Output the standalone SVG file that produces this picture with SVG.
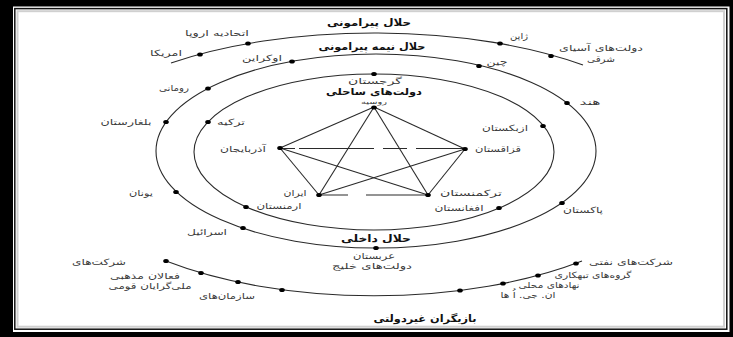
<svg xmlns="http://www.w3.org/2000/svg" width="733" height="337" viewBox="0 0 733 337">
<style>
text{font-family:"DejaVu Sans","Noto Sans",sans-serif;direction:rtl;text-anchor:middle;}
.l{font-size:8.5px;fill:#3a3a3a;}
.b{font-size:10px;font-weight:bold;fill:#111;}
.ring{fill:none;stroke:#2a2a2a;stroke-width:1.1;}
.edge{stroke:#2a2a2a;stroke-width:1.1;fill:none;}
.dot{fill:#000;}
</style>
<defs>
<ellipse id="d" cx="0" cy="0" rx="2.8" ry="2" class="dot"/>
</defs>
<g id="frame">
<rect x="0" y="0" width="733" height="337" fill="#000"/>
<rect x="13" y="6.5" width="716.5" height="325.5" fill="#fff"/>
<rect x="14.8" y="8.6" width="712" height="320.6" fill="none" stroke="#111" stroke-width="1.5"/>
<rect x="17.5" y="11.2" width="706.5" height="315.5" fill="none" stroke="#d0d0d0" stroke-width="2"/>
</g>
<g id="connectors">
<path id="outer-arc" class="ring" d="M171,63 A305,118 0 0 1 583,65"/>
<ellipse id="semi-ring" class="ring" cx="376" cy="151" rx="220" ry="97"/>
<ellipse id="inner-ring" class="ring" cx="374" cy="152" rx="180" ry="78"/>
<path id="nonstate-arc" class="ring" d="M166,261 A320,145 0 0 0 582,261"/>
<line class="edge" x1="374" y1="107" x2="280" y2="148"/>
<line class="edge" x1="374" y1="107" x2="465" y2="149"/>
<line class="edge" x1="374" y1="107" x2="319" y2="195"/>
<line class="edge" x1="374" y1="107" x2="428" y2="195"/>
<line class="edge" x1="280" y1="148" x2="319" y2="195"/>
<line class="edge" x1="280" y1="148" x2="428" y2="195"/>
<line class="edge" x1="465" y1="149" x2="319" y2="195"/>
<line class="edge" x1="465" y1="149" x2="428" y2="195"/>
<path class="edge" d="M280,148.5 H295 M299,148.5 H374 M383,148.5 H407 M416,148.5 H465"/>
<path class="edge" d="M319,195 H348 M366,195 H428"/>
</g>
<g id="peripheral">
<text class="b" x="369" y="26" textLength="84" lengthAdjust="spacingAndGlyphs">حلال پیرامونی</text>
<g id="eu"><use href="#d" x="248" y="43.5"/><text class="l" x="217" y="36" textLength="64" lengthAdjust="spacingAndGlyphs">اتحادیه اروپا</text></g>
<g id="usa"><use href="#d" x="200" y="54.5"/><text class="l" x="166" y="56" textLength="32" lengthAdjust="spacingAndGlyphs">امریکا</text></g>
<g id="japan"><use href="#d" x="500" y="43.5"/><text class="l" x="519" y="39" textLength="18" lengthAdjust="spacingAndGlyphs">ژاپن</text></g>
<g id="east-asia"><use href="#d" x="551" y="56"/><text class="l" x="601" y="51" textLength="84" lengthAdjust="spacingAndGlyphs">دولت‌های آسیای</text><text class="l" x="601" y="62" textLength="28" lengthAdjust="spacingAndGlyphs">شرقی</text></g>
</g>
<g id="semi-peripheral">
<text class="b" x="372" y="50" textLength="107" lengthAdjust="spacingAndGlyphs">حلال نیمه پیرامونی</text>
<g id="ukraine"><use href="#d" x="292" y="61.5"/><text class="l" x="262" y="61" textLength="40" lengthAdjust="spacingAndGlyphs">اوکراین</text></g>
<g id="china"><use href="#d" x="479" y="66"/><text class="l" x="497" y="65" textLength="21" lengthAdjust="spacingAndGlyphs">چین</text></g>
<g id="romania"><use href="#d" x="208" y="88.5"/><text class="l" x="174" y="91" textLength="30" lengthAdjust="spacingAndGlyphs">رومانی</text></g>
<g id="bulgaria"><use href="#d" x="166" y="122"/><text class="l" x="126" y="125" textLength="51" lengthAdjust="spacingAndGlyphs">بلغارستان</text></g>
<g id="india"><use href="#d" x="567" y="103"/><text class="l" x="590" y="105" textLength="21" lengthAdjust="spacingAndGlyphs">هند</text></g>
<g id="greece"><use href="#d" x="176" y="192"/><text class="l" x="141" y="196" textLength="24" lengthAdjust="spacingAndGlyphs">یونان</text></g>
<g id="pakistan"><use href="#d" x="562" y="203"/><text class="l" x="583" y="213" textLength="40" lengthAdjust="spacingAndGlyphs">پاکستان</text></g>
<g id="israel"><use href="#d" x="243" y="228"/><text class="l" x="207" y="235" textLength="40" lengthAdjust="spacingAndGlyphs">اسرائیل</text></g>
<g id="arabia"><use href="#d" x="376" y="248"/><text class="l" x="374" y="259" textLength="42" lengthAdjust="spacingAndGlyphs">عربستان</text><text class="l" x="372" y="269" textLength="80" lengthAdjust="spacingAndGlyphs">دولت‌های خلیج</text></g>
</g>
<g id="inner">
<text class="b" x="376" y="242" textLength="70" lengthAdjust="spacingAndGlyphs">حلال داخلی</text>
<g id="georgia"><use href="#d" x="374" y="74"/><text class="l" x="375" y="84" textLength="54" lengthAdjust="spacingAndGlyphs">گرجستان</text></g>
<g id="turkey"><use href="#d" x="208" y="122"/><text class="l" x="231" y="125" textLength="28" lengthAdjust="spacingAndGlyphs">ترکیه</text></g>
<g id="uzbekistan"><use href="#d" x="543" y="126"/><text class="l" x="505" y="131" textLength="46" lengthAdjust="spacingAndGlyphs">ازبکستان</text></g>
<g id="armenia"><use href="#d" x="246" y="207"/><text class="l" x="279" y="209" textLength="45" lengthAdjust="spacingAndGlyphs">ارمنستان</text></g>
<g id="afghanistan"><use href="#d" x="499" y="208"/><text class="l" x="459" y="211" textLength="49" lengthAdjust="spacingAndGlyphs">افغانستان</text></g>
</g>
<g id="littoral">
<text class="b" x="374" y="95" textLength="96" lengthAdjust="spacingAndGlyphs" style="font-size:9.5px">دولت‌های ساحلی</text>
<g id="russia"><use href="#d" x="374" y="107.5"/><text class="l" x="374" y="103.5" textLength="26" lengthAdjust="spacingAndGlyphs" style="font-size:6.5px">روسیه</text></g>
<g id="azerbaijan"><use href="#d" x="280" y="148"/><text class="l" x="243" y="152" textLength="46" lengthAdjust="spacingAndGlyphs">آذربایجان</text></g>
<g id="kazakhstan"><use href="#d" x="465" y="149"/><text class="l" x="498" y="152" textLength="46" lengthAdjust="spacingAndGlyphs">قزاقستان</text></g>
<g id="iran"><use href="#d" x="319" y="195"/><text class="l" x="295" y="196" textLength="23" lengthAdjust="spacingAndGlyphs">ایران</text></g>
<g id="turkmenistan"><use href="#d" x="428" y="195"/><text class="l" x="471" y="196" textLength="62" lengthAdjust="spacingAndGlyphs">ترکمنستان</text></g>
</g>
<g id="nonstate">
<text class="b" x="425" y="322" textLength="103" lengthAdjust="spacingAndGlyphs">بازیگران غیردولتی</text>
<g id="companies"><use href="#d" x="166" y="261"/><text class="l" x="99" y="265" textLength="54" lengthAdjust="spacingAndGlyphs">شرکت‌های</text></g>
<g id="religious"><use href="#d" x="201" y="273"/><text class="l" x="145" y="279" textLength="70" lengthAdjust="spacingAndGlyphs">فعالان مذهبی</text></g>
<g id="nationalists"><use href="#d" x="238" y="282"/><text class="l" x="150" y="289" textLength="83" lengthAdjust="spacingAndGlyphs">ملی‌گرایان قومی</text></g>
<g id="organizations"><use href="#d" x="282" y="290"/><text class="l" x="227" y="299" textLength="56" lengthAdjust="spacingAndGlyphs">سازمان‌های</text></g>
<g id="oil"><use href="#d" x="576" y="263.5"/><text class="l" x="631" y="265" textLength="84" lengthAdjust="spacingAndGlyphs">شرکت‌های نفتی</text></g>
<g id="criminal"><use href="#d" x="538" y="275.5"/><text class="l" x="593" y="278" textLength="77" lengthAdjust="spacingAndGlyphs">گروه‌های تبهکاری</text></g>
<g id="local"><use href="#d" x="503" y="283.5"/><text class="l" x="549" y="288" textLength="61" lengthAdjust="spacingAndGlyphs">نهادهای محلی</text></g>
<g id="ngo"><use href="#d" x="460" y="290.5"/><text class="l" x="528" y="298" textLength="55" lengthAdjust="spacingAndGlyphs">ان. جی. اُ ها</text></g>
</g>
</svg>
